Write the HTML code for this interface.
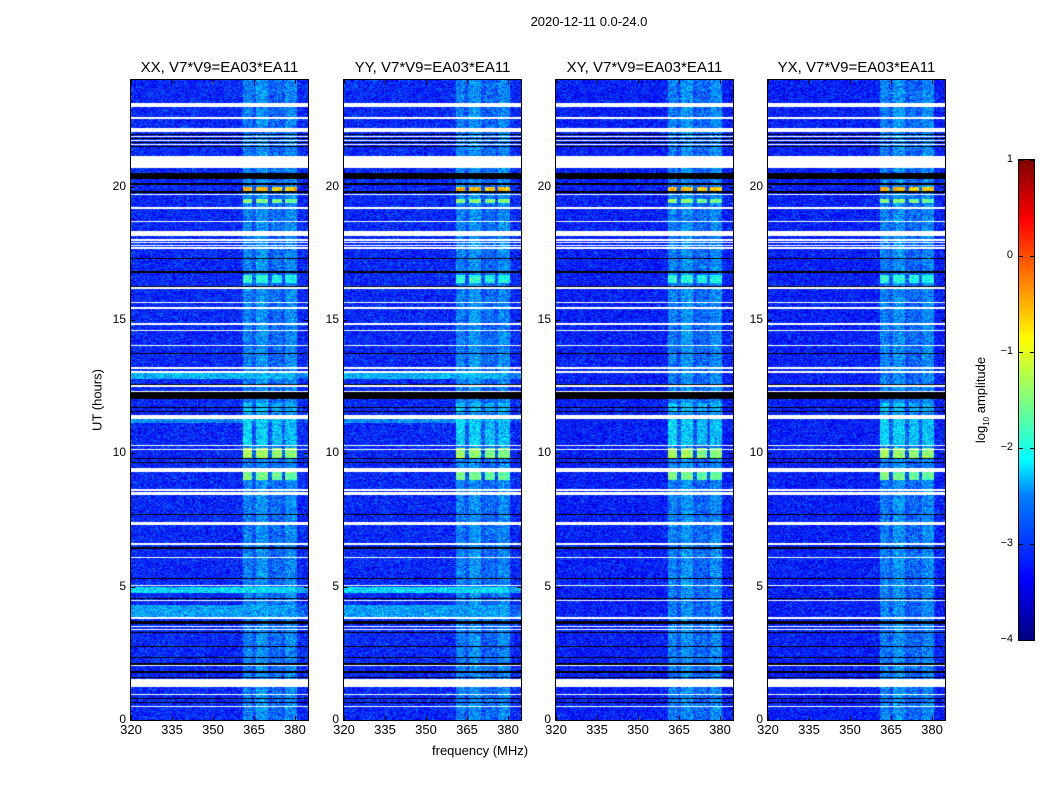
<!DOCTYPE html>
<html><head><meta charset="utf-8">
<style>
body{margin:0;background:#fff;font-family:"Liberation Sans","DejaVu Sans",sans-serif;}
#root{position:relative;width:1050px;height:800px;overflow:hidden;background:#fff}
.t{position:absolute;color:#000;white-space:nowrap;font-size:13px}
.panel{position:absolute;top:80px;width:177px;height:640px;outline:1px solid #000}
.panel canvas{display:block;width:177px;height:640px}
.tick{position:absolute;background:#000}
</style></head>
<body><div id="root">
<div class="t" style="left:0;width:1178px;top:14px;text-align:center;font-size:13px">2020-12-11 0.0-24.0</div>
<div class="t" style="left:97px;top:400px;transform:translate(-50%,-50%) rotate(-90deg);font-size:13px">UT (hours)</div>
<div class="t" style="left:432px;top:743px;font-size:13px">frequency (MHz)</div>
<div id="cbar" style="position:absolute;left:1019px;top:160px;width:15px;height:480px;outline:1px solid #000;background:linear-gradient(to top,#00007f,#0000ff 12.5%,#007fff 30%,#00ffff 37.5%,#7fff7f 50%,#ffff00 62.5%,#ff7f00 75%,#ff0000 87.5%,#7f0000)"></div>
<div class="t" style="left:982px;top:400px;transform:translate(-50%,-50%) rotate(-90deg);font-size:13px">log<sub style="font-size:8px">10</sub> amplitude</div>
</div>
<script>
const panelNames = ["XX, V7*V9=EA03*EA11","YY, V7*V9=EA03*EA11","XY, V7*V9=EA03*EA11","YX, V7*V9=EA03*EA11"];
const panelLeft = [131,344,556,768];
const xTicks = [320,335,350,365,380];
const yTicks = [0,5,10,15,20];
const cbTicks = [1,0,-1,-2,-3,-4];
const panelBackground = [-3.2,-3.2,-3.25,-3.25];
const whiteStart = [23.0,22.53,22.05,21.85,21.7,21.55,20.7,19.68,19.18,18.68,18.15,17.98,17.88,17.78,17.68,16.15,15.63,15.43,14.83,14.58,14.03,13.18,13.03,12.5,12.3,11.3,10.28,10.13,9.3,8.45,8.6,7.3,6.58,6.08,5.03,4.45,3.8,3.48,3.38,2.03,1.25,0.93,0.48];
const whiteEnd   = [23.15,22.6,22.2,21.9,21.75,21.6,21.15,19.72,19.25,18.73,18.35,18.03,17.93,17.83,17.73,16.25,15.68,15.48,14.88,14.63,14.08,13.23,13.08,12.55,12.35,11.42,10.33,10.18,9.45,8.55,8.65,7.42,6.63,6.13,5.08,4.5,3.85,3.53,3.43,2.08,1.55,0.98,0.53];
const blackStart = [21.95,21.8,21.65,21.5,20.3,20.08,19.78,17.28,16.78,16.22,13.73,12.55,12.05,11.7,11.55,9.78,9.63,7.68,6.83,6.43,5.28,4.53,3.6,3.25,2.73,2.33,2.08,1.78,1.58,0.78,0.62];
const blackEnd   = [21.98,21.83,21.68,21.53,20.5,20.12,19.82,17.33,16.83,16.28,13.78,12.6,12.3,11.75,11.6,9.83,9.68,7.73,6.83,6.48,5.33,4.58,3.7,3.3,2.78,2.38,2.13,1.83,1.63,0.83,0.67];
const rfiLo = [361,365.7,371.6,376.3];
const rfiHi = [364.3,370.1,375.2,380.7];
const rfiLevel = [-2.75,-2.65,-2.85,-2.7];
const rfiFloor = -2.95;
const eventStart = [19.82,19.4,16.4,9.8,9.0,11.5,10.3];
const eventEnd   = [20.0,19.55,16.7,10.2,9.3,11.9,11.3];
const eventLevel = [-0.5,-1.4,-1.9,-1.3,-1.5,-2.35,-2.3];
const bbStart = [4.75,3.85,12.8,11.15];
const bbEnd   = [5.0,4.3,13.0,11.3];
const bbLevel = [-2.3,-2.6,-2.5,-2.7];
const bbPolarized = [1,1,1,1]; // 1 = only in XX,YY

const F0=320, F1=384.76, T0=0, T1=24, W=177, H=640;
const xS = f => (f-F0)/(F1-F0)*W;
const yS = t => H-(t-T0)/(T1-T0)*H;
function jet(v){
  let x=(v+4)/5; x=Math.max(0,Math.min(1,x));
  const r=Math.max(0,Math.min(1,Math.min(4*x-1.5,-4*x+4.5)));
  const g=Math.max(0,Math.min(1,Math.min(4*x-0.5,-4*x+3.5)));
  const b=Math.max(0,Math.min(1,Math.min(4*x+0.5,-4*x+2.5)));
  return [r*255|0,g*255|0,b*255|0];
}
function hash(a,b,c){let h=(a*374761393+b*668265263+c*2147483647)|0;h=(h^(h>>>13))*1274126177|0;return ((h^(h>>>16))>>>0)/4294967296;}
function inAny(t,s,e){for(let i=0;i<s.length;i++) if(t>=s[i]&&t<e[i]) return true;return false;}
const root=document.getElementById('root');
function txt(x,y,s,name,align,size){
  const d=document.createElement('div');d.className='t';d.textContent=s;
  d.style.fontSize=(size||13)+'px';d.style.top=y+'px';
  if(align==='c'){d.style.left=x+'px';d.style.transform='translateX(-50%)';}
  else if(align==='r'){d.style.right=(1050-x)+'px';}
  else d.style.left=x+'px';
  
  
  root.appendChild(d);return d;
}
function tick(x,y,w,h,name){
  const d=document.createElement('div');d.className='tick';
  d.style.left=x+'px';d.style.top=y+'px';d.style.width=w+'px';d.style.height=h+'px';
  
  
  root.appendChild(d);
}
panelNames.forEach((nm,p)=>{
  const L=panelLeft[p];
  const wrap=document.createElement('div');wrap.className='panel';wrap.style.left=L+'px';
  
  
  const cv=document.createElement('canvas');cv.width=W;cv.height=H;
  
  
  wrap.appendChild(cv);root.appendChild(wrap);
  const ctx=cv.getContext('2d');const img=ctx.createImageData(W,H);
  for(let y=0;y<H;y++){
    const t=T0+(H-y-0.5)/H*(T1-T0);
    const white=inAny(t,whiteStart,whiteEnd), black=inAny(t,blackStart,blackEnd);
    let ev=null;for(let i=0;i<eventStart.length;i++) if(t>=eventStart[i]&&t<eventEnd[i]) ev=eventLevel[i];
    let bb=null;for(let i=0;i<bbStart.length;i++) if(t>=bbStart[i]&&t<bbEnd[i]&&(!bbPolarized[i]||p<2)) bb=bbLevel[i];
    for(let x=0;x<W;x++){
      const f=F0+(x+0.5)/W*(F1-F0);const k=(y*W+x)*4;
      let col;
      if(white) col=[255,255,255];
      else if(black) col=[0,0,0];
      else{
        let v=panelBackground[p];
        if(f>=rfiLo[0]&&f<rfiHi[rfiHi.length-1]) v=rfiFloor;
        for(let i=0;i<rfiLo.length;i++) if(f>=rfiLo[i]&&f<rfiHi[i]){
          v=rfiLevel[i]; if(ev!==null) v=Math.max(v,ev-(i===2?0.15:0.05*i));
        }
        if(bb!==null) v=Math.max(v,bb-(f>380?0.3:0));
        const n=hash(x,y,p)+hash(y,x,p+7)-1;
        v+=n*0.6;
        col=jet(v);
      }
      img.data[k]=col[0];img.data[k+1]=col[1];img.data[k+2]=col[2];img.data[k+3]=255;
    }
  }
  ctx.putImageData(img,0,0);
  txt(L+W/2,59,nm,'panel-title','c',15);
  xTicks.forEach(v=>{const x=L+xS(v);
    tick(x,716,1,4,'x-tick');tick(x,80,1,4,'x-tick');
    txt(x,722,String(v),'x-tick-label','c',13);});
  yTicks.forEach(v=>{const y=80+yS(v);
    tick(L,y,4,1,'y-tick');tick(L+W-4,y,4,1,'y-tick');
    txt(L-5,y-8,String(v),'y-tick-label','r',12);});
});
cbTicks.forEach(v=>{const y=160+(1-v)/5*480;
  tick(1019,y,4,1,'colorbar-tick');tick(1030,y,4,1,'colorbar-tick');
  txt(1013,y-7,v<0?'\u2212'+(-v):String(v),'colorbar-tick-label','r',11);});
</script>
</body></html>
